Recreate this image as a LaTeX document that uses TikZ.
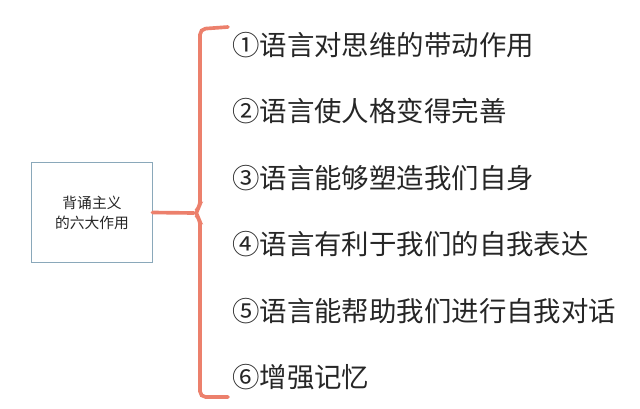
\documentclass[tikz,border=0pt]{standalone}
\usepackage{fontspec}
\usepackage{tikz}
\usetikzlibrary{positioning, calc}
\newfontfamily\cjk{Noto Sans CJK SC}
\definecolor{bracecolor}{RGB}{236, 128, 108}
\definecolor{framecolor}{RGB}{138, 168, 186}

\begin{document}
\begin{tikzpicture}[
    x=0.025cm, y=-0.025cm,
    topicbox/.style={draw=framecolor, line width=0.7pt, minimum width=3cm, minimum height=2.475cm, align=center, font=\cjk\fontsize{10.5}{14.2}\selectfont, text=black!85},
    item/.style={anchor=west, inner sep=0pt, font=\cjk\fontsize{19.5}{23}\selectfont, text=black!85},
    brace/.style={draw=bracecolor, line width=2.6pt, rounded corners=4pt, line cap=round}
]
    \useasboundingbox (0,0) rectangle (640,409);
    \node[topicbox] (topic) at (92,212.5) {背诵主义\\的六大作用};
    
    \node[item] (item1) at (232,45) {①语言对思维的带动作用};
    \node[item] (item2) at (232,111.5) {②语言使人格变得完善};
    \node[item] (item3) at (232,178) {③语言能够塑造我们自身};
    \node[item] (item4) at (232,244.5) {④语言有利于我们的自我表达};
    \node[item] (item5) at (232,311) {⑤语言能帮助我们进行自我对话};
    \node[item] (item6) at (232,377.5) {⑥增强记忆};
    
    \coordinate (tip) at (194,213);
    \coordinate (brtop) at (228,27);
    \coordinate (brbot) at (228,397);
    \draw[brace] (topic.east) -- (tip);
    \draw[brace] (brtop) -- (200,29) -- (200,207) -- (tip) -- (200,219) -- (200,397) -- (brbot);
\end{tikzpicture}
\end{document}
